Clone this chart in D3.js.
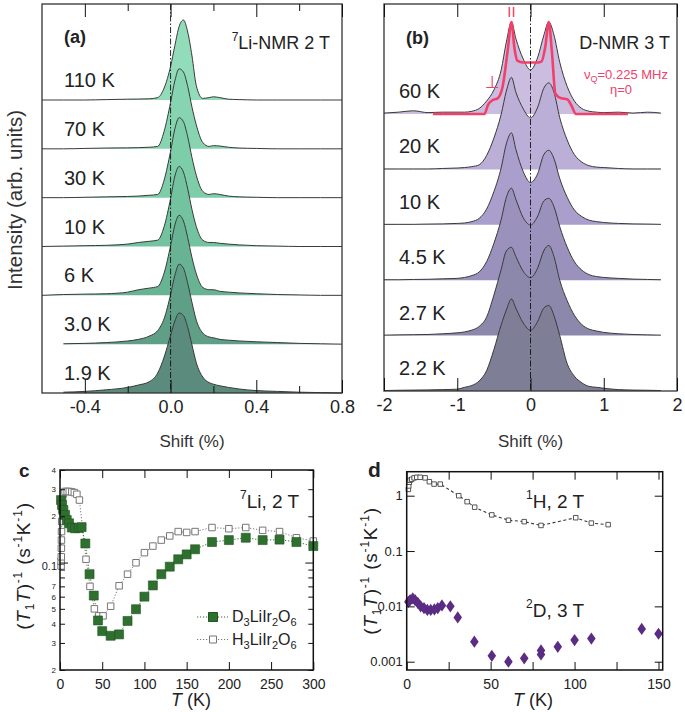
<!DOCTYPE html>
<html><head><meta charset="utf-8">
<script src="https://cdn.jsdelivr.net/npm/d3@7"></script>
<style>
body{margin:0;background:#fff}
svg{display:block}
text{font-family:"Liberation Sans",Arial,Helvetica,sans-serif}
</style>
</head><body>
<svg id="fig" width="685" height="712" fill="#222"></svg>
<script>
// ---------------- DATA ----------------
// Panel a: 7Li-NMR spectra (normalised intensity vs shift %)
const liLabels = ["110 K","70 K","30 K","10 K","6 K","3.0 K","1.9 K"];
const liShift = [-0.6,-0.5,-0.4,-0.3,-0.2,-0.15,-0.1,-0.06,-0.03,0,0.02,0.04,0.06,0.08,0.1,0.12,0.15,0.18,0.2,0.23,0.27,0.32,0.4,0.5,0.6,0.7,0.8];
const li110K = [0,0,0,0.005,0.01,0.012,0.015,0.03,0.15,0.42,0.68,0.92,1.0,0.85,0.55,0.18,0.02,0.03,0.04,0.03,0.01,0.005,0,0,0,0,0];
const li70K  = [0,0,0.005,0.01,0.012,0.015,0.02,0.03,0.22,0.58,0.85,1.0,0.96,0.78,0.52,0.3,0.08,0.03,0.04,0.035,0.02,0.01,0.005,0,0,0,0];
const li30K  = [0,0,0.005,0.01,0.015,0.02,0.03,0.04,0.22,0.58,0.86,1.0,0.95,0.76,0.5,0.28,0.08,0.04,0.05,0.04,0.02,0.01,0.005,0,0,0,0];
const li10K  = [0,0.005,0.01,0.015,0.03,0.05,0.065,0.08,0.25,0.6,0.88,1.0,0.93,0.72,0.46,0.25,0.08,0.05,0.05,0.04,0.03,0.02,0.01,0.005,0,0,0];
const li6K   = [0,0.01,0.015,0.02,0.04,0.07,0.09,0.11,0.28,0.62,0.88,1.0,0.93,0.72,0.47,0.27,0.1,0.07,0.07,0.05,0.04,0.03,0.02,0.01,0.005,0,0];
const li3K   = [null,0.005,0.01,0.02,0.04,0.06,0.1,0.17,0.32,0.62,0.86,1.0,0.95,0.76,0.52,0.3,0.14,0.09,0.08,0.06,0.05,0.04,0.03,0.02,0.01,0.005,0];
const li1_9K = [null,0.01,0.02,0.04,0.07,0.1,0.14,0.25,0.45,0.72,0.9,1.0,0.97,0.82,0.6,0.38,0.2,0.13,0.11,0.09,0.07,0.05,0.03,0.02,0.01,0.005,0];
const liSeries = [li110K,li70K,li30K,li10K,li6K,li3K,li1_9K];
const liTicks = [-0.4,0,0.4,0.8];
const liTickLabels = ["-0.4","0.0","0.4","0.8"];
const liMinorTicks = [-0.2,0.2,0.6];

// Panel b: D-NMR spectra
const dLabels = ["60 K","20 K","10 K","4.5 K","2.7 K","2.2 K"];
const dShift = [-2,-1.8,-1.6,-1.4,-1.2,-1.0,-0.9,-0.8,-0.7,-0.6,-0.5,-0.4,-0.33,-0.26,-0.2,-0.1,0,0.1,0.18,0.25,0.32,0.4,0.5,0.6,0.7,0.8,0.9,1.0,1.2,1.4,1.6,1.78];
const d60K  = [0.01,0.02,0.035,0.015,0.02,0.02,0.02,0.03,0.06,0.14,0.26,0.48,0.78,1.0,0.82,0.6,0.48,0.62,0.85,1.0,0.86,0.56,0.3,0.14,0.06,0.03,0.02,0.015,0.02,0.01,0.02,0.01];
const d20K  = [0.005,0.005,0.005,0.005,0.01,0.015,0.02,0.03,0.05,0.15,0.34,0.6,0.85,1.0,0.84,0.66,0.56,0.68,0.88,0.94,0.84,0.56,0.32,0.16,0.08,0.04,0.025,0.02,0.01,0.005,0.005,0.005];
const d10K  = [0.005,0.005,0.005,0.008,0.01,0.015,0.02,0.035,0.07,0.17,0.36,0.62,0.88,1.0,0.82,0.58,0.46,0.56,0.76,0.81,0.72,0.5,0.3,0.16,0.09,0.05,0.035,0.025,0.015,0.01,0.008,0.005];
const d4_5K = [0.005,0.005,0.008,0.01,0.015,0.02,0.03,0.05,0.09,0.2,0.4,0.66,0.9,1.0,0.88,0.68,0.6,0.7,0.86,0.89,0.8,0.58,0.36,0.2,0.11,0.06,0.04,0.03,0.02,0.012,0.008,0.005];
const d2_7K = [0.005,0.008,0.01,0.012,0.02,0.03,0.04,0.06,0.1,0.2,0.44,0.72,0.92,0.96,0.86,0.7,0.63,0.74,0.92,0.98,0.86,0.6,0.38,0.22,0.12,0.07,0.05,0.035,0.02,0.012,0.008,0.005];
const d2_2K = [0.005,0.008,0.01,0.012,0.015,0.02,0.04,0.06,0.11,0.22,0.45,0.72,0.88,1.0,0.9,0.74,0.66,0.76,0.9,0.93,0.82,0.6,0.3,0.16,0.09,0.05,0.04,0.03,0.015,0.01,0.008,0.005];
const dSeries = [d60K,d20K,d10K,d4_5K,d2_7K,d2_2K];
const fitShift = [-1.33,-0.63,-0.58,-0.52,-0.45,-0.38,-0.31,-0.26,-0.22,-0.18,-0.1,0,0.1,0.15,0.2,0.25,0.29,0.34,0.42,0.5,0.56,0.62,1.33];
const fitI     = [0,0,0.1,0.15,0.17,0.3,0.7,1.0,0.72,0.58,0.56,0.56,0.56,0.57,0.72,1.0,0.7,0.22,0.17,0.16,0.09,0,0];
const dTicks = [-2,-1,0,1,2];

// Panel c: 7Li (T1T)^-1 vs T
const cT_D3 = [1.2,2.4,4,6,8,10.7,14,18,22,25.6,30,35,40,45,50,60,70,80,90,100,110,120,130,140,150,160,180,200,220,240,260,280,300];
const cV_D3 = [0.255,0.237,0.22,0.204,0.189,0.18,0.169,0.167,0.168,0.17,0.133,0.084,0.061,0.042,0.0358,0.0334,0.0341,0.0417,0.0497,0.06,0.071,0.084,0.094,0.105,0.113,0.122,0.136,0.14,0.145,0.14,0.141,0.136,0.128];
const cT_H3 = [1.3,1.4,1.5,1.6,1.7,1.8,2.0,2.4,3,4,6,8.5,11,14,17,20,23,30.8,35.5,40.7,45.8,51,60,70,80,90,100,110,120,130,140,150,160,180,200,220,240,260,280,300];
const cV_H3 = [0.095,0.102,0.109,0.124,0.14,0.159,0.185,0.22,0.255,0.28,0.29,0.29,0.29,0.288,0.285,0.278,0.255,0.105,0.07,0.05,0.045,0.045,0.052,0.0706,0.084,0.0997,0.116,0.128,0.14,0.149,0.159,0.157,0.159,0.169,0.166,0.169,0.162,0.159,0.145,0.138];
const cXTicks = [0,50,100,150,200,250,300];
const cYTicks = [0.02,0.03,0.04,0.05,0.06,0.07,0.08,0.09,0.2,0.3,0.4];
const cYTickLabels = {0.02:"2",0.03:"3",0.04:"4",0.05:"5",0.06:"6",0.07:"7",0.1:"0.1",0.2:"2",0.3:"3",0.4:"4"};

// Panel d: 1H and 2D (T1T)^-1 vs T
const dT_H = [1,1.2,1.5,2,3,4.4,6,8,11,13.5,16.3,20,31,36,40.5,50.7,60.6,70,80,100.7,110,120];
const dV_H = [1.3,1.5,1.75,1.9,1.98,2.1,2.15,2.15,2.1,1.79,1.62,1.62,1.0,0.78,0.62,0.45,0.36,0.34,0.29,0.40,0.32,0.30];
const dT_D = [1,2,3.6,5,6.6,8.3,10.3,12.3,14.3,16.5,18.5,21,26,30.4,40.3,50.7,60.6,70,80,80,90,100,110,140,150];
const dV_D = [0.0121,0.0129,0.0139,0.0129,0.0116,0.01,0.0093,0.0086,0.0086,0.0088,0.0093,0.0104,0.01,0.0063,0.0023,0.00128,0.001,0.00115,0.00135,0.0016,0.00186,0.00246,0.00262,0.0039,0.0032];
const dXTicks = [0,25,50,75,100,125,150];
const dXTickLabels = {0:"0",50:"50",100:"100",150:"150"};
const dYTicks = [0.001,0.01,0.1,1];
const dYTickLabels = ["0.001","0.01","0.1","1"];

// ---------------- STYLE ----------------
const liColors = ["#93dcba","#86d5b0","#7dcda8","#73c3a0","#68b394","#5f9f88","#5b8b7c"];
const dColors  = ["#cbbde0","#bbaed7","#aa9fcc","#9a92bd","#8b88ab","#7e7f97"];
const RED = "#f2406b";
const GREEN = "#2f6f2f";
const PURPLE = "#5b2c83";

const svg = d3.select("#fig");

function styleAxis(g){
  g.select(".domain").remove();
  g.selectAll(".tick line").attr("stroke","#111").attr("stroke-width",1);
}

// ---------- spectra panels ----------
function spectra(o){
  const g = svg.append("g");
  const x = d3.scaleLinear(o.xDomain, [o.left, o.right]);
  const base = d3.scalePoint(o.labels, [o.base0, o.base1]);
  o.series.forEach((vals, i) => {
    const b = base(o.labels[i]);
    const yv = d3.scaleLinear([0,1],[b, b - o.peakH]);
    const pts = o.shift.map((s,k)=>[s, vals[k]]);
    const area = d3.area().defined(d=>d[1]!=null).x(d=>x(d[0])).y0(b).y1(d=>yv(d[1])).curve(d3.curveMonotoneX);
    const line = d3.line().defined(d=>d[1]!=null).x(d=>x(d[0])).y(d=>yv(d[1])).curve(d3.curveMonotoneX);
    g.append("path").attr("d", area(pts)).attr("fill", o.colors[i]);
    g.append("path").attr("d", line(pts)).attr("fill","none").attr("stroke","#3a3a3a").attr("stroke-width",1);
  });
  if (o.fit) {
    const b = base(o.labels[0]);
    const yv = d3.scaleLinear([0,1],[b, b - o.peakH]);
    const pts = o.fit.x.map((s,k)=>[s, o.fit.y[k]]);
    g.append("path").attr("d", d3.line().x(d=>x(d[0])).y(d=>yv(d[1])).curve(d3.curveMonotoneX)(pts))
      .attr("fill","none").attr("stroke",RED).attr("stroke-width",2.6).attr("stroke-linejoin","round");
  }
  g.append("line").attr("x1",x(0)).attr("x2",x(0)).attr("y1",o.top).attr("y2",o.bottom)
    .attr("stroke","#111").attr("stroke-width",0.9).attr("stroke-dasharray","6,2,1.5,2");
  g.append("rect").attr("x",o.left).attr("y",o.top).attr("width",o.right-o.left).attr("height",o.bottom-o.top)
    .attr("fill","none").attr("stroke","#333").attr("stroke-width",1.3);
  const ab = g.append("g").attr("transform",`translate(0,${o.bottom})`)
    .call(d3.axisBottom(x).tickValues(o.ticks).tickSizeInner(-13).tickSizeOuter(0).tickPadding(7)
      .tickFormat((d,i)=>o.tickLabels[i]));
  styleAxis(ab);
  ab.selectAll("text").style("font-size","18px").style("fill","#222");
  const at = g.append("g").attr("transform",`translate(0,${o.top})`)
    .call(d3.axisTop(x).tickValues(o.ticks).tickSizeInner(-13).tickSizeOuter(0).tickFormat(""));
  styleAxis(at);
  if (o.minor) {
    styleAxis(g.append("g").attr("transform",`translate(0,${o.bottom})`)
      .call(d3.axisBottom(x).tickValues(o.minor).tickSizeInner(-7).tickSizeOuter(0).tickFormat("")));
    styleAxis(g.append("g").attr("transform",`translate(0,${o.top})`)
      .call(d3.axisTop(x).tickValues(o.minor).tickSizeInner(-7).tickSizeOuter(0).tickFormat("")));
  }
  o.labels.forEach(l => {
    g.append("text").attr("x",o.labelX).attr("y",base(l)-o.labelDy).text(l).style("font-size","20px");
  });
  g.append("text").attr("x",(o.left+o.right)/2).attr("y",447).attr("text-anchor","middle")
    .style("font-size","17px").style("fill","#333").text("Shift (%)");
  return {x, base};
}

spectra({xDomain:[-0.6,0.8], left:42, right:342, top:4, bottom:393, labels:liLabels, base0:100, base1:393,
  peakH:80, shift:liShift, series:liSeries, colors:liColors, ticks:liTicks, tickLabels:liTickLabels,
  minor:liMinorTicks, labelX:64, labelDy:13});

const pb = spectra({xDomain:[-2,2], left:384, right:677, top:4, bottom:391, labels:dLabels, base0:114, base1:391,
  peakH:92, shift:dShift, series:dSeries, colors:dColors, ticks:dTicks, tickLabels:dTicks.map(String),
  labelX:399, labelDy:16, fit:{x:fitShift, y:fitI}});

// panel a annotations
svg.append("text").attr("x",64).attr("y",43).style("font-size","18px").style("font-weight","bold").text("(a)");
{
  const t = svg.append("text").attr("x",330).attr("y",49).attr("text-anchor","end").style("font-size","18px");
  t.append("tspan").text("7").attr("dy",-8).style("font-size","12px");
  t.append("tspan").text("Li-NMR 2 T").attr("dy",8);
}
svg.append("text").attr("transform","translate(22,200) rotate(-90)").attr("text-anchor","middle")
  .style("font-size","20.5px").style("fill","#333").text("Intensity (arb. units)");

// panel b annotations
svg.append("text").attr("x",406).attr("y",44).style("font-size","18px").style("font-weight","bold").text("(b)");
svg.append("text").attr("x",670).attr("y",49).attr("text-anchor","end").style("font-size","18px").text("D-NMR 3 T");
{
  const t = svg.append("text").attr("x",626).attr("y",79).attr("text-anchor","middle").style("font-size","13px").style("fill",RED);
  t.append("tspan").text("ν").style("fill",RED);
  t.append("tspan").text("Q").attr("dy",3).style("font-size","9px").style("fill",RED);
  t.append("tspan").text("=0.225 MHz").attr("dy",-3).style("fill",RED);
  const e = svg.append("text").attr("x",621).attr("y",94).attr("text-anchor","middle").style("font-size","13px").attr("fill",RED).style("fill",RED);
  e.append("tspan").text("η=0").attr("fill",RED).style("fill",RED);
}
svg.append("text").attr("x",pb.x(-0.26)).attr("y",17).attr("text-anchor","middle").style("font-size","15px")
  .style("fill",RED).text("II");
svg.append("text").attr("x",pb.x(-0.52)).attr("y",88).attr("text-anchor","middle").style("font-size","17px")
  .style("font-family","DejaVu Sans").style("fill",RED).text("⊥");

// ---------- relaxation panels ----------
function yLabel(x, y){
  const t = svg.append("text").attr("transform",`translate(${x},${y}) rotate(-90)`).attr("text-anchor","middle")
    .style("font-size","19px").style("letter-spacing","0.8px");
  t.append("tspan").text("(");
  t.append("tspan").text("T").style("font-style","italic");
  t.append("tspan").text("1").attr("dy",4).style("font-size","12px");
  t.append("tspan").text("T").attr("dy",-4).style("font-style","italic");
  t.append("tspan").text(")");
  t.append("tspan").text("-1").attr("dy",-8).style("font-size","12px");
  t.append("tspan").text(" (s").attr("dy",8);
  t.append("tspan").text("-1").attr("dy",-8).style("font-size","12px");
  t.append("tspan").text("K").attr("dy",8);
  t.append("tspan").text("-1").attr("dy",-8).style("font-size","12px");
  t.append("tspan").text(")").attr("dy",8);
}
function xLabel(x, y){
  const t = svg.append("text").attr("x",x).attr("y",y).attr("text-anchor","middle").style("font-size","18px");
  t.append("tspan").text("T").style("font-style","italic");
  t.append("tspan").text(" (K)");
}
function squareSym(s){ return d3.symbol().type(d3.symbolSquare).size(s*s)(); }

// Panel c
{
  const L=60, R=313.3, T=470, B=670;
  const x = d3.scaleLinear([0,300],[L,R]);
  const y = d3.scaleLog([0.02,0.4],[B,T]);
  const g = svg.append("g");
  const lineH = d3.line().x((d,i)=>x(cT_H3[i])).y(d=>y(d));
  const lineD = d3.line().x((d,i)=>x(cT_D3[i])).y(d=>y(d));
  g.append("path").attr("d",lineH(cV_H3)).attr("fill","none").attr("stroke","#777").attr("stroke-width",1).attr("stroke-dasharray","1.2,1.8");
  g.append("path").attr("d",lineD(cV_D3)).attr("fill","none").attr("stroke",GREEN).attr("stroke-width",1).attr("stroke-dasharray","1.2,1.8");
  g.selectAll(".h3").data(cV_H3).join("path").attr("d",squareSym(6.5))
    .attr("transform",(d,i)=>`translate(${x(cT_H3[i])},${y(d)})`).attr("fill","#fff").attr("stroke","#777").attr("stroke-width",1);
  g.selectAll(".d3").data(cV_D3).join("path").attr("d",squareSym(9))
    .attr("transform",(d,i)=>`translate(${x(cT_D3[i])},${y(d)})`).attr("fill",GREEN).attr("stroke","#1f551f").attr("stroke-width",0.6);
  g.append("rect").attr("x",L).attr("y",T).attr("width",R-L).attr("height",B-T).attr("fill","none").attr("stroke","#111").attr("stroke-width",1.5);
  const xb = g.append("g").attr("transform",`translate(0,${B})`)
    .call(d3.axisBottom(x).tickValues(cXTicks).tickSizeInner(-8).tickSizeOuter(0).tickPadding(9));
  styleAxis(xb); xb.selectAll("text").style("font-size","14px").style("fill","#222");
  styleAxis(g.append("g").attr("transform",`translate(0,${T})`).call(d3.axisTop(x).tickValues(cXTicks).tickSizeInner(-8).tickSizeOuter(0).tickFormat("")));
  const yl = g.append("g").attr("transform",`translate(${L},0)`)
    .call(d3.axisLeft(y).tickValues(cYTicks).tickSizeInner(-5).tickSizeOuter(0).tickPadding(4).tickFormat(d=>cYTickLabels[d]||""));
  styleAxis(yl); yl.selectAll("text").style("font-size","8px").style("fill","#222");
  const ym = g.append("g").attr("transform",`translate(${L},0)`)
    .call(d3.axisLeft(y).tickValues([0.1]).tickSizeInner(-8).tickSizeOuter(0).tickPadding(3).tickFormat(d=>cYTickLabels[d]));
  styleAxis(ym); ym.selectAll("text").style("font-size","11px").style("fill","#222").attr("dy","0.6em");
  styleAxis(g.append("g").attr("transform",`translate(${R},0)`).call(d3.axisRight(y).tickValues(cYTicks).tickSizeInner(-5).tickSizeOuter(0).tickFormat("")));
  styleAxis(g.append("g").attr("transform",`translate(${R},0)`).call(d3.axisRight(y).tickValues([0.1]).tickSizeInner(-8).tickSizeOuter(0).tickFormat("")));
  svg.append("text").attr("x",19).attr("y",477).style("font-size","19px").style("font-weight","bold").text("c");
  const t = svg.append("text").attr("x",240).attr("y",508).style("font-size","19px");
  t.append("tspan").text("7").attr("dy",-9).style("font-size","12px");
  t.append("tspan").text("Li, 2 T").attr("dy",9);
  const leg = [{y:617, fill:GREEN, stroke:"#1f551f", s:9, lc:GREEN},
               {y:639.5, fill:"#fff", stroke:"#777", s:7, lc:"#777"}];
  const names = ["D","H"];
  leg.forEach((l,i)=>{
    g.append("line").attr("x1",197).attr("x2",228).attr("y1",l.y).attr("y2",l.y).attr("stroke",l.lc).attr("stroke-dasharray","1.2,1.8");
    g.append("path").attr("d",squareSym(l.s)).attr("transform",`translate(213,${l.y})`).attr("fill",l.fill).attr("stroke",l.stroke);
    const tx = g.append("text").attr("x",232).attr("y",l.y+5).style("font-size","16px");
    tx.append("tspan").text(names[i]);
    tx.append("tspan").text("3").attr("dy",4).style("font-size","11px");
    tx.append("tspan").text("LiIr").attr("dy",-4);
    tx.append("tspan").text("2").attr("dy",4).style("font-size","11px");
    tx.append("tspan").text("O").attr("dy",-4);
    tx.append("tspan").text("6").attr("dy",4).style("font-size","11px");
  });
  yLabel(30, 566);
  xLabel(191, 706);
}

// Panel d
{
  const L=406.7, R=662.7, T=471.7, B=670;
  const x = d3.scaleLinear([0,152.5],[L,R]);
  const y = d3.scaleLog([0.000708,2.715],[B,T]);
  const g = svg.append("g");
  g.append("path").attr("d",d3.line().x((d,i)=>x(dT_H[i])).y(d=>y(d))(dV_H)).attr("fill","none")
    .attr("stroke","#333").attr("stroke-width",1.1).attr("stroke-dasharray","3,2.5");
  g.selectAll(".hh").data(dV_H).join("path").attr("d",squareSym(4.5))
    .attr("transform",(d,i)=>`translate(${x(dT_H[i])},${y(d)})`).attr("fill","#fff").attr("stroke","#444").attr("stroke-width",0.9);
  g.selectAll(".dd").data(dV_D).join("path").attr("d",d3.symbol().type(d3.symbolDiamond).size(48)())
    .attr("transform",(d,i)=>`translate(${x(dT_D[i])},${y(d)}) scale(1.15,0.95)`).attr("fill",PURPLE);
  g.append("rect").attr("x",L).attr("y",T).attr("width",R-L).attr("height",B-T).attr("fill","none").attr("stroke","#111").attr("stroke-width",1.5);
  const xb = g.append("g").attr("transform",`translate(0,${B})`)
    .call(d3.axisBottom(x).tickValues(dXTicks).tickSizeInner(-8).tickSizeOuter(0).tickPadding(9).tickFormat(d=>dXTickLabels[d]||""));
  styleAxis(xb); xb.selectAll("text").style("font-size","14px").style("fill","#222");
  styleAxis(g.append("g").attr("transform",`translate(0,${T})`).call(d3.axisTop(x).tickValues(dXTicks).tickSizeInner(-8).tickSizeOuter(0).tickFormat("")));
  const yl = g.append("g").attr("transform",`translate(${L},0)`)
    .call(d3.axisLeft(y).tickValues(dYTicks).tickSizeInner(-8).tickSizeOuter(0).tickPadding(4).tickFormat((d,i)=>dYTickLabels[i]));
  styleAxis(yl); yl.selectAll("text").style("font-size","13px").style("fill","#222");
  styleAxis(g.append("g").attr("transform",`translate(${R},0)`).call(d3.axisRight(y).tickValues(dYTicks).tickSizeInner(-8).tickSizeOuter(0).tickFormat("")));
  svg.append("text").attr("x",368).attr("y",477).style("font-size","21px").style("font-weight","bold").text("d");
  const t1 = svg.append("text").attr("x",526).attr("y",508).style("font-size","19px");
  t1.append("tspan").text("1").attr("dy",-9).style("font-size","12px");
  t1.append("tspan").text("H, 2 T").attr("dy",9);
  const t2 = svg.append("text").attr("x",526).attr("y",617).style("font-size","19px");
  t2.append("tspan").text("2").attr("dy",-9).style("font-size","12px");
  t2.append("tspan").text("D, 3 T").attr("dy",9);
  yLabel(377, 571);
  xLabel(533, 706);
}
</script>
</body></html>
